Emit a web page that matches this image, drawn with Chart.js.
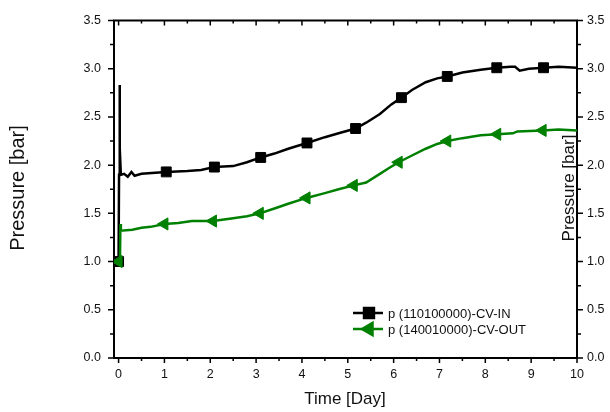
<!DOCTYPE html>
<html>
<head>
<meta charset="utf-8">
<script src="https://cdn.jsdelivr.net/npm/chart.js@4/dist/chart.umd.min.js"></script>
<style>
  html, body { margin: 0; padding: 0; background: #fff; }
  #wrap { width: 610px; height: 412px; }
</style>
</head>
<body>
<div id="wrap"><canvas id="chart" width="610" height="412"></canvas></div>
<script>
// series (day, bar); 1 = marker drawn on that point
const inDays = [0, 0.01, 0.02, 0.03, 0.05, 0.12, 0.2, 0.28, 0.35, 0.5, 0.8, 1.04, 1.5, 1.8, 2.09, 2.5, 2.8, 3.1, 3.4, 3.7, 4.11, 4.5, 4.8, 5.17, 5.4, 5.7, 5.95, 6.17, 6.4, 6.7, 6.95, 7.17, 7.5, 7.9, 8.25, 8.55, 8.65, 8.75, 8.95, 9.27, 9.6, 10.0];
const inPressure = [1.00, 1.90, 2.83, 2.18, 1.90, 1.91, 1.88, 1.93, 1.89, 1.91, 1.92, 1.93, 1.94, 1.95, 1.98, 1.99, 2.03, 2.08, 2.12, 2.17, 2.23, 2.29, 2.33, 2.38, 2.44, 2.53, 2.63, 2.70, 2.78, 2.86, 2.90, 2.92, 2.96, 2.99, 3.01, 3.02, 3.02, 2.98, 3.00, 3.01, 3.02, 3.01];
const inMarked = [1, 0, 0, 0, 0, 0, 0, 0, 0, 0, 0, 1, 0, 0, 1, 0, 0, 1, 0, 0, 1, 0, 0, 1, 0, 0, 0, 1, 0, 0, 0, 1, 0, 0, 1, 0, 0, 0, 0, 1, 0, 0];

const outDays = [0, 0.03, 0.04, 0.05, 0.3, 0.5, 0.7, 1.0, 1.3, 1.6, 2.06, 2.5, 2.8, 3.08, 3.4, 3.7, 4.1, 4.5, 4.8, 5.13, 5.4, 5.7, 5.9, 6.11, 6.4, 6.7, 6.95, 7.17, 7.5, 7.9, 8.26, 8.6, 8.7, 9.25, 9.6, 10.0];
const outPressure = [1.00, 1.00, 1.39, 1.32, 1.33, 1.35, 1.36, 1.39, 1.40, 1.42, 1.42, 1.45, 1.47, 1.50, 1.55, 1.60, 1.66, 1.71, 1.75, 1.79, 1.82, 1.91, 1.97, 2.03, 2.10, 2.17, 2.22, 2.25, 2.28, 2.31, 2.32, 2.33, 2.35, 2.36, 2.37, 2.36];
const outMarked = [1, 0, 0, 0, 0, 0, 0, 1, 0, 0, 1, 0, 0, 1, 0, 0, 1, 0, 0, 1, 0, 0, 0, 1, 0, 0, 0, 1, 0, 0, 1, 0, 0, 1, 0, 0];

const seriesLabels = ['p (110100000)-CV-IN', 'p (140010000)-CV-OUT'];
const xTicks = [0, 1, 2, 3, 4, 5, 6, 7, 8, 9, 10];
const yTicks = [0, 0.5, 1.0, 1.5, 2.0, 2.5, 3.0, 3.5];

const GREEN = '#008000';
const FONT = '"Liberation Sans", Arial, sans-serif';

function toPoints(xs, ys) {
  return xs.map((x, i) => ({ x: x, y: ys[i] }));
}

// ticks (major/minor), top frame, axis titles and legend
const decorations = {
  id: 'decorations',
  afterDraw(chart) {
    const ctx = chart.ctx;
    const a = chart.chartArea;
    const sx = chart.scales.x;
    const sy = chart.scales.y;
    ctx.save();
    ctx.strokeStyle = '#000';
    ctx.lineWidth = 2;
    ctx.beginPath();
    ctx.moveTo(a.left - 1, a.top);
    ctx.lineTo(a.right + 1, a.top);
    ctx.stroke();

    ctx.lineWidth = 1.5;
    ctx.beginPath();
    for (let v = 0; v <= 10; v += 0.5) {
      const px = sx.getPixelForValue(v);
      const len = Number.isInteger(v) ? 5 : 3;
      ctx.moveTo(px, a.bottom); ctx.lineTo(px, a.bottom + len);
      ctx.moveTo(px, a.top); ctx.lineTo(px, a.top + len);
    }
    for (let v = 0; v <= 3.5; v += 0.25) {
      const py = sy.getPixelForValue(v);
      const len = (Math.round(v * 4) % 2 === 0) ? 6 : 4;
      ctx.moveTo(a.left, py); ctx.lineTo(a.left - len, py);
      ctx.moveTo(a.right, py); ctx.lineTo(a.right + len, py);
    }
    ctx.stroke();

    ctx.fillStyle = '#111';
    ctx.textAlign = 'center';
    ctx.textBaseline = 'middle';
    ctx.font = '17px ' + FONT;
    ctx.fillText('Time [Day]', 345, 399);

    ctx.save();
    ctx.translate(18, 188);
    ctx.rotate(-Math.PI / 2);
    ctx.font = '20px ' + FONT;
    ctx.fillText('Pressure [bar]', 0, 0);
    ctx.restore();

    ctx.save();
    ctx.translate(569, 188);
    ctx.rotate(-Math.PI / 2);
    ctx.font = '17px ' + FONT;
    ctx.fillText('Pressure [bar]', 0, 0);
    ctx.restore();

    // legend
    const rows = [
      { y: 313, color: '#000', style: 'rect', rot: 0, r: 7 },
      { y: 329, color: GREEN, style: 'triangle', rot: 270, r: 7 }
    ];
    ctx.font = '13px ' + FONT;
    ctx.textAlign = 'left';
    rows.forEach((row, i) => {
      ctx.strokeStyle = row.color;
      ctx.lineWidth = 2.5;
      ctx.beginPath();
      ctx.moveTo(353, row.y);
      ctx.lineTo(383, row.y);
      ctx.stroke();
      ctx.fillStyle = row.color;
      Chart.helpers.drawPoint(ctx, { pointStyle: row.style, radius: row.r, rotation: row.rot, borderWidth: 1 }, 369, row.y);
      ctx.fillStyle = '#111';
      ctx.fillText(seriesLabels[i], 388, row.y + 1);
    });
    ctx.restore();
  }
};

const axisCommon = {
  grid: { display: false, drawTicks: false },
  border: { display: true, color: '#000', width: 2 },
  ticks: { color: '#111', font: { family: FONT, size: 12.5 } }
};

new Chart(document.getElementById('chart'), {
  type: 'line',
  data: {
    datasets: [
      {
        label: seriesLabels[1],
        data: toPoints(outDays, outPressure),
        borderColor: GREEN,
        backgroundColor: GREEN,
        borderWidth: 2.5,
        pointStyle: 'triangle',
        rotation: 270,
        pointRadius: c => outMarked[c.dataIndex] ? 7 : 0,
        pointBorderWidth: 1,
        order: 0
      },
      {
        label: seriesLabels[0],
        data: toPoints(inDays, inPressure),
        borderColor: '#000',
        backgroundColor: '#000',
        borderWidth: 2.5,
        pointStyle: 'rect',
        pointRadius: c => inMarked[c.dataIndex] ? 7 : 0,
        pointBorderWidth: 1,
        order: 1
      }
    ]
  },
  options: {
    responsive: false,
    animation: false,
    layout: { padding: { top: 18, left: 0, right: 0, bottom: 0 } },
    plugins: { legend: { display: false }, tooltip: { enabled: false } },
    elements: { line: { tension: 0 } },
    scales: {
      x: {
        ...axisCommon,
        type: 'linear',
        min: -0.1,
        max: 10,
        afterBuildTicks: s => { s.ticks = xTicks.map(v => ({ value: v })); },
        afterFit: s => { s.height = 54; },
        ticks: { ...axisCommon.ticks, padding: 9, maxRotation: 0, callback: v => String(v) }
      },
      y: {
        ...axisCommon,
        position: 'left',
        min: 0,
        max: 3.5,
        afterBuildTicks: s => { s.ticks = yTicks.map(v => ({ value: v })); },
        afterFit: s => { s.width = 114; },
        ticks: { ...axisCommon.ticks, padding: 13, callback: v => v.toFixed(1) }
      },
      y2: {
        ...axisCommon,
        position: 'right',
        min: 0,
        max: 3.5,
        afterBuildTicks: s => { s.ticks = yTicks.map(v => ({ value: v })); },
        afterFit: s => { s.width = 33; },
        ticks: { ...axisCommon.ticks, padding: 10, callback: v => v.toFixed(1) }
      }
    }
  },
  plugins: [decorations]
});
</script>
</body>
</html>
